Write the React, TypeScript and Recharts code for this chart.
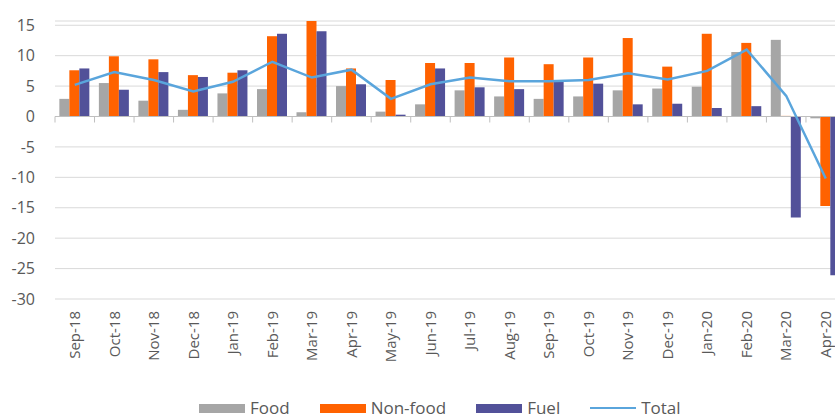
import React from 'react';
import { ComposedChart, Bar, Line, XAxis, YAxis, CartesianGrid, ReferenceLine } from 'recharts';

const months = [
  'Sep-18', 'Oct-18', 'Nov-18', 'Dec-18', 'Jan-19', 'Feb-19', 'Mar-19', 'Apr-19', 'May-19', 'Jun-19',
  'Jul-19', 'Aug-19', 'Sep-19', 'Oct-19', 'Nov-19', 'Dec-19', 'Jan-20', 'Feb-20', 'Mar-20', 'Apr-20',
];
const food = [2.9, 5.5, 2.6, 1.1, 3.8, 4.5, 0.7, 5.0, 0.8, 2.0, 4.3, 3.3, 2.9, 3.3, 4.3, 4.6, 4.9, 10.6, 12.6, -0.3];
const nonFood = [7.6, 9.9, 9.4, 6.8, 7.2, 13.2, 15.7, 7.9, 6.0, 8.8, 8.8, 9.7, 8.6, 9.7, 12.9, 8.2, 13.6, 12.1, 0.1, -14.7];
const fuel = [7.9, 4.4, 7.3, 6.5, 7.6, 13.6, 14.0, 5.3, 0.3, 7.9, 4.8, 4.5, 5.7, 5.4, 2.0, 2.1, 1.4, 1.7, -16.6, -26.1];
const total = [5.2, 7.3, 6.0, 4.1, 5.7, 9.0, 6.4, 7.7, 2.9, 5.3, 6.4, 5.8, 5.8, 6.0, 7.1, 6.1, 7.5, 11.0, 3.4, -10.2];
const yTicks = [-30, -25, -20, -15, -10, -5, 0, 5, 10, 15];

const data = months.map((m, i) => ({
  month: m,
  food: food[i],
  nonFood: nonFood[i],
  fuel: fuel[i],
  total: total[i],
}));

const GREY = '#a6a6a6';
const ORANGE = '#ff6200';
const PURPLE = '#525199';
const BLUE = '#5aa5dc';
const TEXT = '#595959';
const FONT = '"Open Sans", Lato, sans-serif';

// rotated month labels, reading bottom-to-top
const MonthTick = (props: any) => {
  const { x, y, payload } = props;
  return (
    <g transform={`translate(${x},${y})`}>
      <text
        transform="rotate(-90)"
        x={-12}
        y={0}
        dy="0.35em"
        textAnchor="end"
        fill={TEXT}
        fontSize={15}
        fontFamily={FONT}
      >
        {payload.value}
      </text>
    </g>
  );
};

// zero line with small ticks between categories
const ZeroLine = (props: any) => {
  const { x1, y1, x2, y2 } = props;
  const n = months.length;
  const step = (x2 - x1) / n;
  const marks = [];
  for (let i = 0; i <= n; i++) {
    const x = x1 + i * step;
    marks.push(<line key={i} x1={x} y1={y1} x2={x} y2={y1 + 6} stroke="#bfbfbf" strokeWidth={1} />);
  }
  return (
    <g>
      <line x1={x1} y1={y1} x2={x2} y2={y2} stroke="#bfbfbf" strokeWidth={1} />
      {marks}
    </g>
  );
};

const legendItems = [
  { label: 'Food', color: GREY, type: 'rect' },
  { label: 'Non-food', color: ORANGE, type: 'rect' },
  { label: 'Fuel', color: PURPLE, type: 'rect' },
  { label: 'Total', color: BLUE, type: 'line' },
];

const App: React.FC = () => {
  return (
    <div
      style={{
        position: 'absolute',
        left: 0,
        top: 0,
        width: 835,
        height: 419,
        overflow: 'hidden',
        background: '#fff',
      }}
    >
      <ComposedChart
        width={860}
        height={419}
        data={data}
        margin={{ top: 21, right: 14.5, left: 0, bottom: 40 }}
        barCategoryGap="11%"
        barGap={0}
      >
        <CartesianGrid vertical={false} stroke="#d9d9d9" strokeWidth={1} />
        <XAxis
          dataKey="month"
          axisLine={false}
          tickLine={false}
          tickSize={0}
          tickMargin={0}
          height={80}
          interval={0}
          tick={<MonthTick />}
        />
        <YAxis
          width={55}
          domain={[-30, 15]}
          ticks={yTicks}
          interval={0}
          axisLine={false}
          tickLine={false}
          tickMargin={14}
          tick={{ fill: TEXT, fontSize: 16, fontFamily: FONT }}
        />
        <Bar dataKey="food" fill={GREY} isAnimationActive={false} />
        <Bar dataKey="nonFood" fill={ORANGE} isAnimationActive={false} />
        <Bar dataKey="fuel" fill={PURPLE} isAnimationActive={false} />
        <ReferenceLine y={0} shape={<ZeroLine />} />
        <Line
          dataKey="total"
          type="linear"
          stroke={BLUE}
          strokeWidth={2.5}
          dot={false}
          isAnimationActive={false}
        />
      </ComposedChart>
      <div
        style={{
          position: 'absolute',
          left: 199,
          top: 398,
          display: 'flex',
          alignItems: 'center',
          fontFamily: '"Liberation Sans Narrow", "Open Sans", sans-serif',
          fontSize: 17,
          color: TEXT,
          lineHeight: '20px',
        }}
      >
        {legendItems.map((item) => (
          <div key={item.label} style={{ display: 'flex', alignItems: 'center', marginRight: 30 }}>
            {item.type === 'rect' ? (
              <div style={{ width: 46, height: 9, background: item.color, marginRight: 5 }} />
            ) : (
              <div style={{ width: 46, height: 2.5, background: item.color, marginRight: 5 }} />
            )}
            <span>{item.label}</span>
          </div>
        ))}
      </div>
    </div>
  );
};

export default App;
